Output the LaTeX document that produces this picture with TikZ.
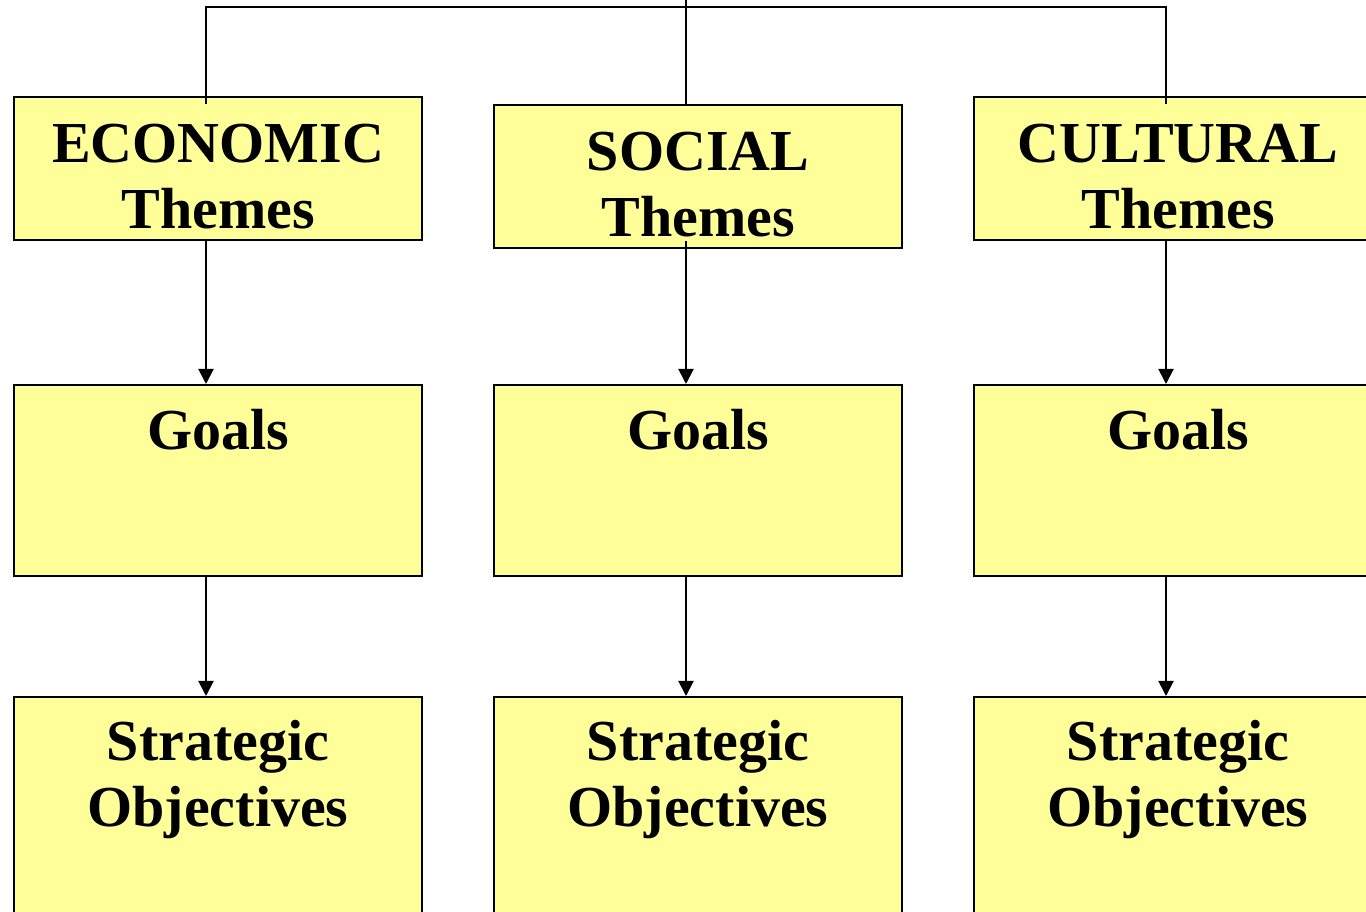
\documentclass[tikz,border=0pt]{standalone}
\usepackage{fontspec}
\setmainfont{Liberation Serif}
\usetikzlibrary{arrows.meta}
\definecolor{paleyellow}{RGB}{255,255,153}
\tikzset{
  tierbox/.style={draw, fill=paleyellow, line width=1pt, minimum width=204pt, inner sep=0pt},
  tiertext/.style={align=center, inner sep=0pt, anchor=base,
    font=\fontsize{29}{33.25}\selectfont\bfseries},
  link/.style={line width=1pt},
  flow/.style={line width=1pt, -{Triangle[width=7.5pt,length=7.5pt]}}
}

\begin{document}
\begin{tikzpicture}[x=0.5pt,y=0.5pt]
\clip (0,0) rectangle (1366,911);
% themes
\node[tierbox, minimum height=71.5pt] (eco) at (218,742.5) {};
\node[tierbox, minimum height=71.5pt] (soc) at (698,734.5) {};
\node[tierbox, minimum height=71.5pt] (cul) at (1178,742.5) {};
% goals
\node[tierbox, minimum height=95.5pt] (ecogoal) at (218,430.5) {};
\node[tierbox, minimum height=95.5pt] (socgoal) at (698,430.5) {};
\node[tierbox, minimum height=95.5pt] (culgoal) at (1178,430.5) {};
% objectives
\node[tierbox, minimum height=120pt] (ecoobj) at (218,94) {};
\node[tierbox, minimum height=120pt] (socobj) at (698,94) {};
\node[tierbox, minimum height=120pt] (culobj) at (1178,94) {};

% connectors from the top
\coordinate (hub) at (686,911);
\draw[link] (hub) -- ([xshift=-6pt]soc.north);
\draw[link] ([shift={(-12,-8)}]eco.north) -- ++(0,96.5) -| ([shift={(-12,-8)}]cul.north);
\draw[flow] ([xshift=-6pt]eco.south) -- ([xshift=-6pt]ecogoal.north);
\draw[flow] ([shift={(-12,8)}]soc.south) -- ([xshift=-6pt]socgoal.north);
\draw[flow] ([xshift=-6pt]cul.south) -- ([xshift=-6pt]culgoal.north);
\draw[flow] ([xshift=-6pt]ecogoal.south) -- ([xshift=-6pt]ecoobj.north);
\draw[flow] ([xshift=-6pt]socgoal.south) -- ([xshift=-6pt]socobj.north);
\draw[flow] ([xshift=-6pt]culgoal.south) -- ([xshift=-6pt]culobj.north);

% labels (base = baseline of the last line)
\node[tiertext] (ecotxt) at ([yshift=-66.5pt]eco.north) {ECONOMIC\\Themes};
\node[tiertext] (soctxt) at ([yshift=-66.5pt]soc.north) {SOCIAL\\Themes};
\node[tiertext] (cultxt) at ([yshift=-66.5pt]cul.north) {CULTURAL\\Themes};
\node[tiertext] (ecogoaltxt) at ([yshift=-33pt]ecogoal.north) {Goals};
\node[tiertext] (socgoaltxt) at ([yshift=-33pt]socgoal.north) {Goals};
\node[tiertext] (culgoaltxt) at ([yshift=-33pt]culgoal.north) {Goals};
\node[tiertext] (ecoobjtxt) at ([yshift=-65.5pt]ecoobj.north) {Strategic\\Objectives};
\node[tiertext] (socobjtxt) at ([yshift=-65.5pt]socobj.north) {Strategic\\Objectives};
\node[tiertext] (culobjtxt) at ([yshift=-65.5pt]culobj.north) {Strategic\\Objectives};
\end{tikzpicture}
\end{document}
